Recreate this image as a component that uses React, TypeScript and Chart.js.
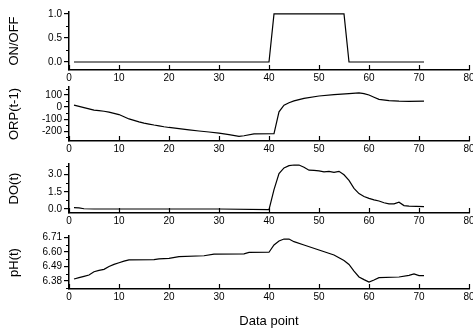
import React, { useEffect, useRef } from "react";
import { Chart, registerables } from "chart.js";
Chart.register(...registerables);

const FONT = "'Liberation Sans', Arial, sans-serif";

const X_TICKS = [0, 10, 20, 30, 40, 50, 60, 70, 80];

const SWITCH_X = [1, 40, 41, 55, 56, 71];
const SWITCH_Y = [0, 0, 1, 1, 0, 0];

const ORP_X = [1, 2, 3, 4, 5, 6, 7, 8, 9, 10, 11, 12, 13, 14, 15, 16, 17, 18, 19, 20, 22, 24, 26, 28, 30, 32, 34, 35, 37, 41, 42, 43, 44, 45, 47, 50, 53, 56, 58, 59, 60, 61, 62, 64, 66, 68, 71];
const ORP_Y = [15, 5, -5, -15, -25, -30, -35, -42, -52, -62, -80, -98, -110, -122, -132, -140, -148, -155, -162, -168, -178, -188, -197, -205, -215, -227, -241, -236, -220, -218, -40, 15, 35, 50, 70, 90, 102, 110, 115, 110, 98, 80, 63, 52, 48, 46, 48];

const DO_X = [1, 2, 3, 5, 10, 20, 30, 40, 41, 42, 43, 44, 45, 46, 47, 48, 49, 50, 51, 52, 53, 54, 55, 56, 57, 58, 59, 60, 61, 62, 63, 64, 65, 66, 67, 68, 71];
const DO_Y = [0.12, 0.1, 0.02, 0, 0, 0, 0, -0.05, 1.7, 3.1, 3.6, 3.8, 3.85, 3.85, 3.65, 3.4, 3.38, 3.33, 3.25, 3.3, 3.2, 3.3, 3.0, 2.5, 1.8, 1.35, 1.1, 0.93, 0.8, 0.7, 0.55, 0.45, 0.45, 0.6, 0.3, 0.25, 0.2];

const PH_X = [1, 2, 3, 4, 5, 6, 7, 8, 9, 10, 11, 12, 17, 18, 20, 22, 27, 29, 35, 36, 40, 41, 42, 43, 44, 45, 47, 50, 53, 55, 56, 57, 58, 59, 60, 61, 62, 66, 68, 69, 70, 71];
const PH_Y = [6.395, 6.405, 6.415, 6.425, 6.45, 6.46, 6.468, 6.49, 6.506, 6.518, 6.53, 6.54, 6.542, 6.548, 6.552, 6.564, 6.571, 6.584, 6.586, 6.597, 6.598, 6.653, 6.683, 6.698, 6.698, 6.678, 6.653, 6.615, 6.577, 6.535, 6.505, 6.455, 6.41, 6.39, 6.372, 6.387, 6.405, 6.41, 6.423, 6.433, 6.42, 6.42];

const SWITCH_TICKS = [0, 0.5, 1.0];
const ORP_TICKS = [-200, -100, 0, 100];
const DO_TICKS = [0, 1.5, 3.0];
const PH_TICKS = [6.38, 6.49, 6.6, 6.71];

const SWITCH_MINOR = [0.25, 0.75];
const ORP_MINOR = [-250, -150, -50, 50, 150];
const DO_MINOR = [0.75, 2.25, 3.75];
const PH_MINOR = [6.325, 6.435, 6.545, 6.655];

type Panel = {
  top: number;
  height: number;
  padTop: number;
  xh: number;
  title: string;
  xs: number[];
  ys: number[];
  min: number;
  max: number;
  ticks: number[];
  minor: number[];
  decimals: number;
  xTitle?: string;
};

const PANELS: Panel[] = [
  { top: 0, height: 86, padTop: 12, xh: 16, title: "ON/OFF", xs: SWITCH_X, ys: SWITCH_Y, min: -0.167, max: 1.04, ticks: SWITCH_TICKS, minor: SWITCH_MINOR, decimals: 1 },
  { top: 86, height: 71, padTop: 1, xh: 16, title: "ORP(t-1)", xs: ORP_X, ys: ORP_Y, min: -279, max: 164, ticks: ORP_TICKS, minor: ORP_MINOR, decimals: 0 },
  { top: 157, height: 72, padTop: 7, xh: 16, title: "DO(t)", xs: DO_X, ys: DO_Y, min: -0.35, max: 3.94, ticks: DO_TICKS, minor: DO_MINOR, decimals: 1 },
  { top: 229, height: 100, padTop: 7, xh: 40, title: "pH(t)", xs: PH_X, ys: PH_Y, min: 6.319, max: 6.721, ticks: PH_TICKS, minor: PH_MINOR, decimals: 2, xTitle: "Data point" },
];

function makeConfig(p: Panel): any {
  const tickPlugin = {
    id: "inwardTicks",
    afterDraw(chart: any) {
      const ctx = chart.ctx;
      const xs = chart.scales.x;
      const ys = chart.scales.y;
      const area = chart.chartArea;
      ctx.save();
      ctx.strokeStyle = "#000";
      ctx.lineWidth = 1.2;
      ctx.beginPath();
      for (const v of X_TICKS) {
        const px = Math.round(xs.getPixelForValue(v)) + 0.5;
        ctx.moveTo(px, area.bottom);
        ctx.lineTo(px, area.bottom - 5);
      }
      for (const m of p.minor) {
        const py = Math.round(ys.getPixelForValue(m)) + 0.5;
        ctx.moveTo(area.left, py);
        ctx.lineTo(area.left - 3, py);
      }
      ctx.stroke();
      ctx.restore();
    },
  };
  return {
    type: "line",
    data: {
      datasets: [
        {
          data: p.xs.map((x, i) => ({ x, y: p.ys[i] })),
          borderColor: "#000",
          borderWidth: 1.2,
          pointRadius: 0,
          fill: false,
          tension: 0,
        },
      ],
    },
    options: {
      animation: false,
      responsive: false,
      maintainAspectRatio: false,
      devicePixelRatio: 1,
      layout: { padding: { left: 0, right: 4, top: p.padTop, bottom: 0 } },
      plugins: { legend: { display: false }, tooltip: { enabled: false } },
      scales: {
        x: {
          type: "linear",
          min: 0,
          max: 80,
          afterBuildTicks: (s: any) => {
            s.ticks = X_TICKS.map((v) => ({ value: v }));
          },
          afterFit: (s: any) => {
            s.height = p.xh;
            s.paddingLeft = 0;
            s.paddingRight = 0;
          },
          grid: { display: false, drawTicks: false, tickLength: 0 },
          border: { display: true, color: "#000", width: 1.5 },
          ticks: {
            color: "#000",
            padding: 2,
            maxRotation: 0,
            autoSkip: false,
            font: { family: FONT, size: 10 },
            callback: (v: any) => String(v),
          },
          title: p.xTitle
            ? { display: true, text: p.xTitle, color: "#000", font: { family: FONT, size: 13 }, padding: { top: 0, bottom: 0 } }
            : { display: false },
        },
        y: {
          type: "linear",
          min: p.min,
          max: p.max,
          afterBuildTicks: (s: any) => {
            s.ticks = p.ticks.map((v) => ({ value: v }));
          },
          afterFit: (s: any) => {
            s.width = 69;
            s.paddingTop = 0;
            s.paddingBottom = 0;
          },
          grid: { display: true, drawOnChartArea: false, drawTicks: true, tickLength: 5, color: "#000", lineWidth: 1.2 },
          border: { display: true, color: "#000", width: 1.5 },
          ticks: {
            color: "#000",
            padding: 2,
            autoSkip: false,
            font: { family: FONT, size: 10 },
            callback: (v: any) => Number(v).toFixed(p.decimals),
          },
          title: { display: true, text: p.title, color: "#000", font: { family: FONT, size: 13 }, padding: { top: 7, bottom: 0 } },
        },
      },
    },
    plugins: [tickPlugin],
  };
}

export default function App() {
  const refs = useRef<(HTMLCanvasElement | null)[]>([]);
  useEffect(() => {
    const charts: Chart[] = [];
    PANELS.forEach((p, i) => {
      const c = refs.current[i];
      if (c) charts.push(new Chart(c, makeConfig(p)));
    });
    return () => charts.forEach((c) => c.destroy());
  }, []);
  return (
    <div style={{ position: "absolute", left: 0, top: 0, width: 473, height: 329, background: "#fff" }}>
      {PANELS.map((p, i) => (
        <canvas
          key={i}
          ref={(el) => {
            refs.current[i] = el;
          }}
          width={473}
          height={p.height}
          style={{ position: "absolute", left: 0, top: p.top, width: 473, height: p.height }}
        />
      ))}
    </div>
  );
}
